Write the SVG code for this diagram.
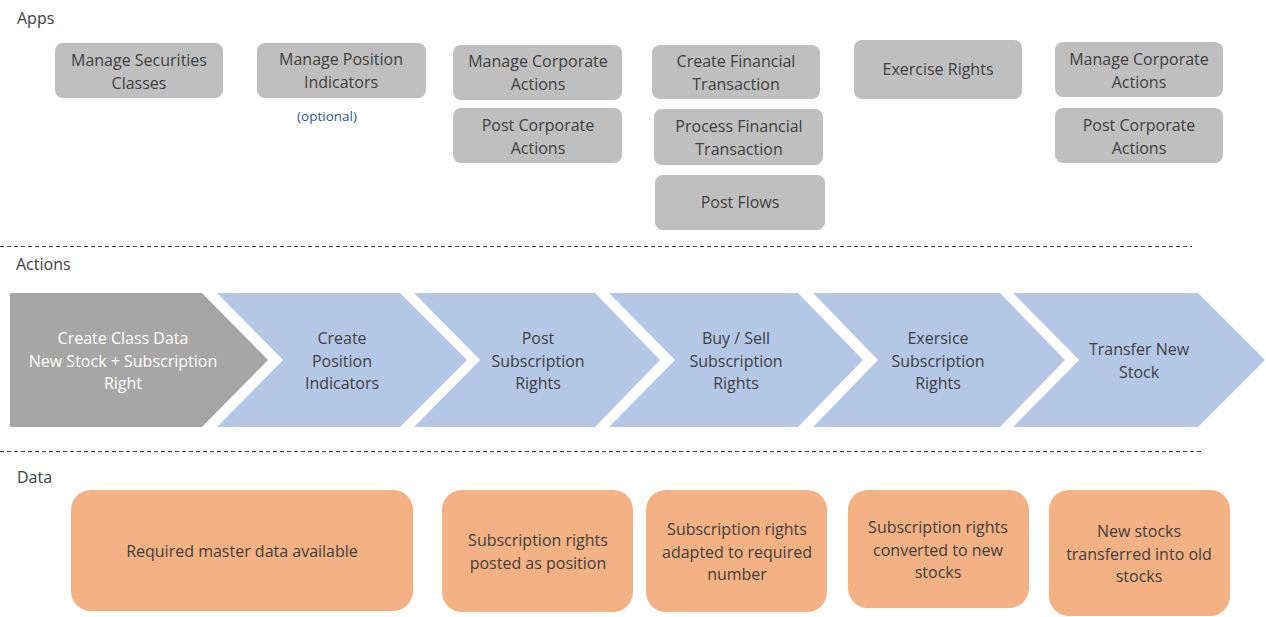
<svg xmlns="http://www.w3.org/2000/svg" width="1266" height="617" viewBox="0 0 1266 617">
<style>
text{font-family:"Open Sans","Noto Sans","Liberation Sans",sans-serif;font-size:16px;fill:#404040;text-anchor:middle;dominant-baseline:central}
.sec{text-anchor:start}
.app{fill:#BFBFBF}
.data{fill:#F4B183}
.chev{fill:#B4C7E7}
.chev0{fill:#A6A6A6}
.w{fill:#FFFFFF}
.opt{fill:#2F5597;font-size:13.5px}
.dash{stroke:#404040;stroke-width:1;stroke-dasharray:4 3;fill:none}
</style>
<rect width="1266" height="617" fill="#FFFFFF"/>
<g id="separators">
<line class="dash" x1="0" y1="246.5" x2="1192" y2="246.5"/>
<line class="dash" x1="0" y1="451.5" x2="1201" y2="451.5"/>
</g>
<g id="section-labels">
<text class="sec" x="17" y="18">Apps</text>
<text class="sec" x="16" y="264">Actions</text>
<text class="sec" x="17" y="477">Data</text>
</g>
<g id="apps">
<g id="app-manage-securities-classes"><rect class="app" x="55" y="43" width="168" height="55" rx="8"/><text x="139" y="60">Manage Securities</text><text x="139" y="83">Classes</text></g>
<g id="app-manage-position-indicators"><rect class="app" x="257" y="43" width="169" height="55" rx="8"/><text x="341" y="59">Manage Position</text><text x="341" y="82">Indicators</text><text class="opt" x="327" y="116">(optional)</text></g>
<g id="app-manage-corporate-actions-1"><rect class="app" x="453" y="45" width="169" height="55" rx="8"/><text x="538" y="61">Manage Corporate</text><text x="538" y="84">Actions</text></g>
<g id="app-post-corporate-actions-1"><rect class="app" x="453" y="108" width="169" height="55" rx="8"/><text x="538" y="125">Post Corporate</text><text x="538" y="148">Actions</text></g>
<g id="app-create-financial-transaction"><rect class="app" x="652" y="45" width="168" height="54" rx="8"/><text x="736" y="61">Create Financial</text><text x="736" y="84">Transaction</text></g>
<g id="app-process-financial-transaction"><rect class="app" x="654" y="109" width="169" height="56" rx="8"/><text x="739" y="126">Process Financial</text><text x="739" y="149">Transaction</text></g>
<g id="app-post-flows"><rect class="app" x="655" y="175" width="170" height="55" rx="8"/><text x="740" y="202">Post Flows</text></g>
<g id="app-exercise-rights"><rect class="app" x="854" y="40" width="168" height="59" rx="8"/><text x="938" y="69">Exercise Rights</text></g>
<g id="app-manage-corporate-actions-2"><rect class="app" x="1055" y="42" width="168" height="55" rx="8"/><text x="1139" y="59">Manage Corporate</text><text x="1139" y="82">Actions</text></g>
<g id="app-post-corporate-actions-2"><rect class="app" x="1055" y="108" width="168" height="55" rx="8"/><text x="1139" y="125">Post Corporate</text><text x="1139" y="148">Actions</text></g>
</g>
<g id="actions">
<g id="act-create-class-data"><polygon class="chev0" points="10,293 202,293 268,360 202,427 10,427"/><text class="w" x="123" y="338">Create Class Data</text><text class="w" x="123" y="361">New Stock + Subscription</text><text class="w" x="123" y="383">Right</text></g>
<g id="act-create-position-indicators"><polygon class="chev" points="217,293 400,293 467,360 400,427 217,427 283,360"/><text x="342" y="338">Create</text><text x="342" y="361">Position</text><text x="342" y="383">Indicators</text></g>
<g id="act-post-subscription-rights"><polygon class="chev" points="414,293 595,293 660,360 595,427 414,427 480,360"/><text x="538" y="338">Post</text><text x="538" y="361">Subscription</text><text x="538" y="383">Rights</text></g>
<g id="act-buy-sell-subscription-rights"><polygon class="chev" points="609,293 798,293 863,360 798,427 609,427 675,360"/><text x="736" y="338">Buy / Sell</text><text x="736" y="361">Subscription</text><text x="736" y="383">Rights</text></g>
<g id="act-exersice-subscription-rights"><polygon class="chev" points="813,293 1000,293 1065,360 1000,427 813,427 878,360"/><text x="938" y="338">Exersice</text><text x="938" y="361">Subscription</text><text x="938" y="383">Rights</text></g>
<g id="act-transfer-new-stock"><polygon class="chev" points="1013,293 1198,293 1265,360 1198,427 1013,427 1079,360"/><text x="1139" y="349">Transfer New</text><text x="1139" y="372">Stock</text></g>
</g>
<g id="data">
<g id="data-master"><rect class="data" x="71" y="490" width="342" height="121" rx="20"/><text x="242" y="551">Required master data available</text></g>
<g id="data-posted"><rect class="data" x="442" y="490" width="191" height="122" rx="20"/><text x="538" y="540">Subscription rights</text><text x="538" y="563">posted as position</text></g>
<g id="data-adapted"><rect class="data" x="646" y="490" width="181" height="122" rx="20"/><text x="737" y="529">Subscription rights</text><text x="737" y="552">adapted to required</text><text x="737" y="574">number</text></g>
<g id="data-converted"><rect class="data" x="848" y="490" width="181" height="118" rx="20"/><text x="938" y="527">Subscription rights</text><text x="938" y="550">converted to new</text><text x="938" y="572">stocks</text></g>
<g id="data-transferred"><rect class="data" x="1049" y="490" width="181" height="126" rx="20"/><text x="1139" y="531">New stocks</text><text x="1139" y="554">transferred into old</text><text x="1139" y="576">stocks</text></g>
</g>
</svg>
